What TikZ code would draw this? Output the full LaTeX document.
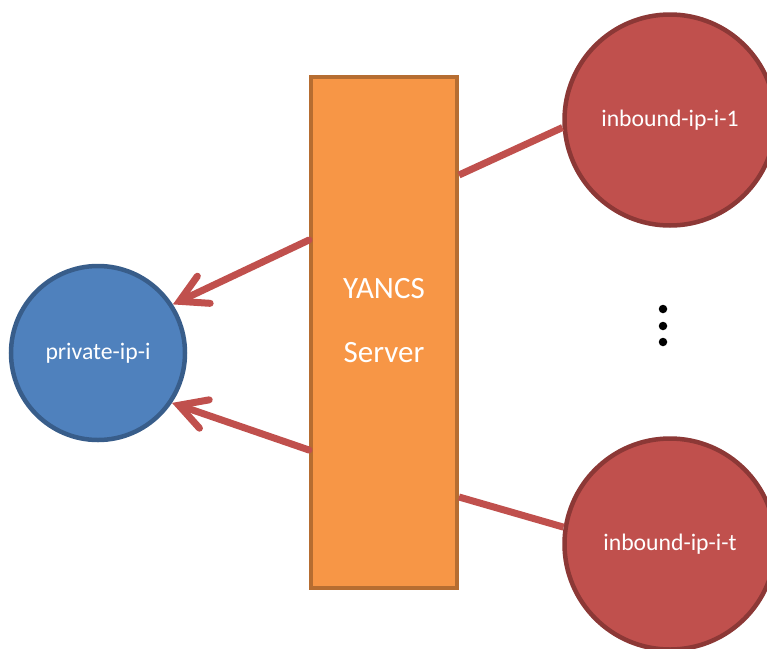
\documentclass[tikz,border=0pt]{standalone}
\usepackage{fontspec}
\setmainfont{Carlito}
\usetikzlibrary{arrows.meta}
\definecolor{privfill}{HTML}{4F81BD}
\definecolor{privline}{HTML}{385D8A}
\definecolor{srvfill}{HTML}{F79646}
\definecolor{srvline}{HTML}{B66D31}
\definecolor{inbfill}{HTML}{C0504D}
\definecolor{inbline}{HTML}{8C3836}
\tikzset{
  privnode/.style={circle, fill=privfill, draw=privline, line width=4.5pt,
    minimum size=174pt, inner sep=0pt, text=white,
    font=\fontsize{23.7}{28}\selectfont},
  inbnode/.style={circle, fill=inbfill, draw=inbline, line width=4.5pt,
    minimum size=211pt, inner sep=0pt, text=white,
    font=\fontsize{23.7}{28}\selectfont},
  srvnode/.style={rectangle, fill=srvfill, draw=srvline, line width=4pt,
    minimum width=146pt, minimum height=511pt, inner sep=0pt},
  srvtext/.style={text=white, align=center, inner sep=0pt,
    font=\fontsize{31}{64}\selectfont},
  vdot/.style={circle, fill=black, minimum size=8.5pt, inner sep=0pt},
  link/.style={draw=inbfill, line width=7pt},
  flow/.style={link, -{Straight Barb[length=27pt, width=30pt, line cap=round]}, line cap=round},
}
\begin{document}
\begin{tikzpicture}[x=1pt, y=-1pt]
  \useasboundingbox (0,0) rectangle (767,648);
  \begin{scope}
    \clip (0,0) rectangle (767,648);
    % endpoints
    \node[privnode] (priv) at (98,353) {private-ip-i};
    \node[srvnode] (srv) at (384,332.5) {};
    \node[srvtext] (srvlabel) at (384,321) {YANCS\\Server};
    \node[inbnode] (inb1) at (670,120) {inbound-ip-i-1};
    \node[inbnode] (inbt) at (670,544) {inbound-ip-i-t};
    % vertical ellipsis between the inbound addresses
    \node[vdot] (d1) at (663,309) {};
    \node[vdot] (d2) at (663,326) {};
    \node[vdot] (d3) at (663,342) {};
    % attachment points on the server box
    \coordinate (s1) at (459,175);
    \coordinate (s2) at (459,497);
    \coordinate (s3) at (309,240);
    \coordinate (s4) at (309,450);
    % links
    \draw[link] (s1) -- (inb1.184);
    \draw[link] (s2) -- (inbt.171);
    \draw[flow] (s3) -- (priv.33);
    \draw[flow] (s4) -- (priv.-34);
  \end{scope}
\end{tikzpicture}
\end{document}
